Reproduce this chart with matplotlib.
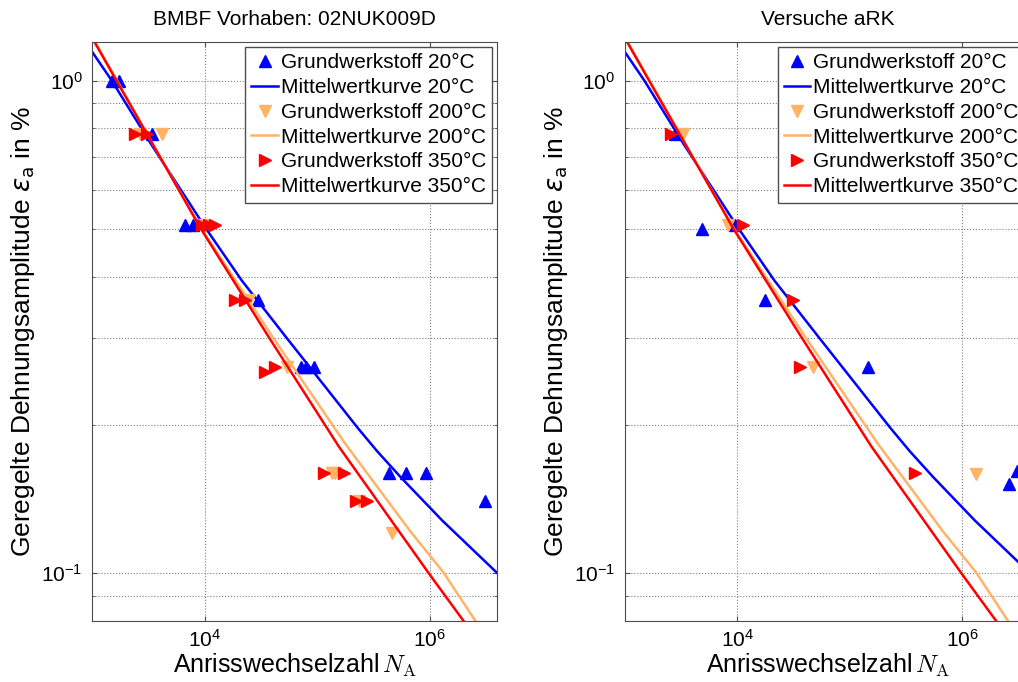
import matplotlib
matplotlib.use('Agg')
import matplotlib.pyplot as plt
import matplotlib.ticker as ticker

plt.rcParams['font.family'] = ['Liberation Sans', 'DejaVu Sans']

# Mittelwertkurven (in beiden Bildern gleich)
kurve_20_n = [1.0e3, 1.49e3, 3.37e3, 1.03e4, 2.13e4, 5.37e4, 2.3e5, 3.4e5, 5.47e5, 1.29e6, 4.0e6]
kurve_20_eps = [1.143, 1.0, 0.74, 0.5, 0.393, 0.3, 0.197, 0.177, 0.157, 0.128, 0.1]
kurve_200_n = [1.0e3, 1.66e3, 3.8e3, 9.1e3, 4.08e4, 1.78e5, 6.73e5, 1.32e6, 2.55e6]
kurve_200_eps = [1.225, 1.0, 0.715, 0.505, 0.3, 0.183, 0.1216, 0.1005, 0.08]
kurve_350_n = [1.0e3, 1.64e3, 3.74e3, 9.1e3, 3.69e4, 1.55e5, 9.8e5, 2.0e6]
kurve_350_eps = [1.22, 1.0, 0.719, 0.503, 0.302, 0.181, 0.1, 0.08]

# Versuchspunkte BMBF Vorhaben
bmbf_20_n = [1.50e3, 1.73e3, 3.37e3, 6.7e3, 7.9e3, 3.0e4, 7.1e4, 8.0e4, 9.3e4, 4.3e5, 6.1e5, 9.2e5, 3.1e6]
bmbf_20_eps = [1.0, 1.0, 0.78, 0.51, 0.51, 0.358, 0.262, 0.262, 0.262, 0.16, 0.16, 0.16, 0.14]
bmbf_200_n = [2.65e3, 4.14e3, 9.4e3, 2.45e4, 5.4e4, 1.35e5, 1.45e5, 2.33e5, 4.62e5]
bmbf_200_eps = [0.78, 0.78, 0.51, 0.358, 0.262, 0.16, 0.16, 0.14, 0.1205]
bmbf_350_n = [2.40e3, 3.06e3, 9.4e3, 1.08e4, 1.24e4, 1.86e4, 2.29e4, 3.44e4, 4.22e4, 1.14e5, 1.71e5, 2.22e5, 2.77e5]
bmbf_350_eps = [0.78, 0.78, 0.51, 0.51, 0.51, 0.358, 0.358, 0.256, 0.262, 0.16, 0.16, 0.14, 0.14]

# Versuchspunkte aRK
ark_20_n = [2.77e3, 4.81e3, 9.46e3, 1.75e4, 1.46e5, 2.57e6, 3.05e6]
ark_20_eps = [0.78, 0.501, 0.51, 0.358, 0.262, 0.152, 0.161]
ark_200_n = [3.28e3, 8.2e3, 4.66e4, 1.32e6]
ark_200_eps = [0.778, 0.51, 0.262, 0.159]
ark_350_n = [2.58e3, 1.12e4, 3.13e4, 3.59e4, 3.79e5]
ark_350_eps = [0.78, 0.51, 0.358, 0.262, 0.16]

blau = '#0000FF'
orange = '#FFB366'
rot = '#FF0000'


def panel(ax, titel, p20, p200, p350):
    ax.plot(p20[0], p20[1], '^', color=blau, ms=8, ls='none', label='Grundwerkstoff 20°C')
    ax.plot(kurve_20_n, kurve_20_eps, '-', color=blau, lw=1.8, label='Mittelwertkurve 20°C')
    ax.plot(p200[0], p200[1], 'v', color=orange, ms=8, ls='none', label='Grundwerkstoff 200°C')
    ax.plot(kurve_200_n, kurve_200_eps, '-', color=orange, lw=1.8, label='Mittelwertkurve 200°C')
    ax.plot(p350[0], p350[1], '>', color=rot, ms=8, ls='none', label='Grundwerkstoff 350°C')
    ax.plot(kurve_350_n, kurve_350_eps, '-', color=rot, lw=1.8, label='Mittelwertkurve 350°C')

    ax.set_xscale('log')
    ax.set_yscale('log')
    ax.set_xlim(1e3, 4e6)
    ax.set_ylim(0.08, 1.2)

    ax.xaxis.set_major_locator(ticker.FixedLocator([1e4, 1e6]))
    ax.xaxis.set_minor_locator(ticker.NullLocator())
    ax.yaxis.set_major_locator(ticker.FixedLocator([0.1, 1.0]))
    ax.yaxis.set_minor_locator(ticker.LogLocator(base=10, subs=range(2, 10)))
    ax.yaxis.set_minor_formatter(ticker.NullFormatter())
    ax.xaxis.set_major_formatter(ticker.LogFormatterSciNotation())
    ax.yaxis.set_major_formatter(ticker.LogFormatterSciNotation())

    ax.grid(True, which='major', ls=':', color='0.5', lw=0.8)
    ax.grid(True, which='minor', axis='y', ls=':', color='0.5', lw=0.8)
    ax.tick_params(which='both', direction='in', top=True, right=True, labelsize=15,
                   color='0.3')
    ax.tick_params(axis='y', pad=7)
    ax.tick_params(axis='x', pad=6)
    for s in ax.spines.values():
        s.set_color('0.3')

    ax.set_title(titel, fontsize=15, pad=12)
    ax.set_xlabel(r'Anrisswechselzahl$\,N_{\mathrm{A}}$', fontsize=18, labelpad=0,
                  math_fontfamily='cm')
    ax.set_ylabel(r'Geregelte Dehnungsamplitude $\varepsilon_{\rm a}$ in %', fontsize=19,
                  labelpad=3)

    leg = ax.legend(loc='upper right', fontsize=15, frameon=True, fancybox=False,
                    framealpha=1, edgecolor='0.3', borderaxespad=0.25, borderpad=0.3,
                    labelspacing=0.28, handlelength=1.25, handletextpad=0.15,
                    numpoints=1)
    leg.get_frame().set_linewidth(1.0)


fig = plt.figure(figsize=(10.18, 6.82), dpi=100)
ax1 = fig.add_axes([0.0907, 0.0894, 0.398, 0.8495])
ax2 = fig.add_axes([0.6139, 0.0894, 0.398, 0.8495])

panel(ax1, 'BMBF Vorhaben: 02NUK009D',
      (bmbf_20_n, bmbf_20_eps), (bmbf_200_n, bmbf_200_eps), (bmbf_350_n, bmbf_350_eps))
panel(ax2, 'Versuche aRK',
      (ark_20_n, ark_20_eps), (ark_200_n, ark_200_eps), (ark_350_n, ark_350_eps))

fig.savefig('out.png', dpi=100)
